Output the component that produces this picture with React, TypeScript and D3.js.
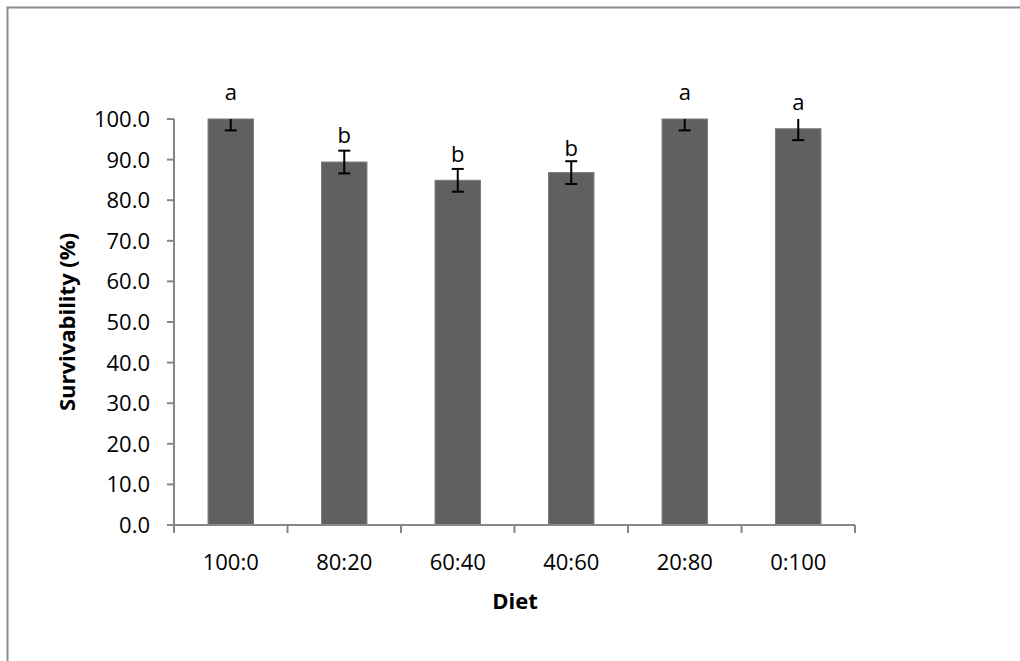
import React from "react";
import * as d3 from "d3";

const diets = ["100:0", "80:20", "60:40", "40:60", "20:80", "0:100"];
const survival = [100, 89.4, 84.9, 86.8, 100, 97.6];
const errors = [2.8, 2.8, 2.8, 2.8, 2.8, 2.8];
const letters = ["a", "b", "b", "b", "a", "a"];
const letterAt = [104.7, 94.2, 89.5, 91.0, 104.7, 102.2];
const yTicks = [0, 10, 20, 30, 40, 50, 60, 70, 80, 90, 100];

const App = () => {
  const width = 1020,
    height = 661;
  const left = 174,
    right = 855,
    top = 119,
    bottom = 525;

  const x = d3.scaleBand().domain(diets).range([left, right]).paddingInner(0.6).paddingOuter(0.3);
  const y = d3.scaleLinear().domain([0, 100]).range([bottom, top]);
  const bounds = d3.scaleBand().domain(diets).range([left, right]);

  const font = "'Open Sans', sans-serif";
  const fs = 22;
  const axisColor = "#868686";

  return (
    <div style={{ position: "fixed", left: 0, top: 0 }}>
      <svg width={width} height={height} style={{ display: "block" }}>
        <rect x={0} y={0} width={width} height={height} fill="#fff" />
        <rect x={7.5} y={7.5} width={width + 20} height={height + 20} fill="none" stroke="#8c8c8c" strokeWidth={2} />
        <defs>
          <clipPath id="plot">
            <rect x={left} y={top} width={right - left} height={bottom - top} />
          </clipPath>
        </defs>

        {/* bars */}
        {diets.map((d, i) => (
          <rect
            key={d}
            x={x(d)}
            y={y(survival[i])}
            width={x.bandwidth()}
            height={y(0) - y(survival[i])}
            fill="#606060"
            stroke="#7a7a7a"
            strokeWidth={1}
          />
        ))}

        {/* error bars, clipped to the plot area like the original */}
        <g clipPath="url(#plot)" stroke="#000" strokeWidth={2}>
          {diets.map((d, i) => {
            const cx = (x(d) as number) + x.bandwidth() / 2;
            const hi = y(survival[i] + errors[i]);
            const lo = y(survival[i] - errors[i]);
            return (
              <g key={d}>
                <line x1={cx} x2={cx} y1={hi} y2={lo} />
                <line x1={cx - 6} x2={cx + 6} y1={hi} y2={hi} />
                <line x1={cx - 6} x2={cx + 6} y1={lo} y2={lo} />
              </g>
            );
          })}
        </g>

        {/* significance letters */}
        {diets.map((d, i) => (
          <text
            key={d}
            x={(x(d) as number) + x.bandwidth() / 2}
            y={y(letterAt[i])}
            textAnchor="middle"
            fontFamily={font}
            fontSize={fs}
            fill="#000"
          >
            {letters[i]}
          </text>
        ))}

        {/* y axis */}
        <line x1={left} x2={left} y1={top} y2={bottom} stroke={axisColor} strokeWidth={2} />
        {yTicks.map((t) => (
          <g key={t}>
            <line x1={left - 7} x2={left} y1={y(t)} y2={y(t)} stroke={axisColor} strokeWidth={2} />
            <text x={150} y={y(t)} dy="0.36em" textAnchor="end" fontFamily={font} fontSize={fs} fill="#000">
              {t.toFixed(1)}
            </text>
          </g>
        ))}

        {/* x axis */}
        <line x1={left} x2={right} y1={bottom} y2={bottom} stroke={axisColor} strokeWidth={2} />
        {diets.map((d) => (
          <line
            key={"t" + d}
            x1={bounds(d)}
            x2={bounds(d)}
            y1={bottom}
            y2={bottom + 8}
            stroke={axisColor}
            strokeWidth={2}
          />
        ))}
        <line x1={right} x2={right} y1={bottom} y2={bottom + 8} stroke={axisColor} strokeWidth={2} />
        {diets.map((d) => (
          <text
            key={"l" + d}
            x={(bounds(d) as number) + bounds.bandwidth() / 2}
            y={570}
            textAnchor="middle"
            fontFamily={font}
            fontSize={fs}
            fill="#000"
          >
            {d}
          </text>
        ))}

        {/* titles */}
        <text x={515} y={609} textAnchor="middle" fontFamily={font} fontSize={fs} fontWeight="bold" fill="#000">
          Diet
        </text>
        <text
          transform={`translate(75,322) rotate(-90)`}
          textAnchor="middle"
          fontFamily={font}
          fontSize={fs}
          fontWeight="bold"
          fill="#000"
        >
          Survivability (%)
        </text>
      </svg>
    </div>
  );
};

export default App;
